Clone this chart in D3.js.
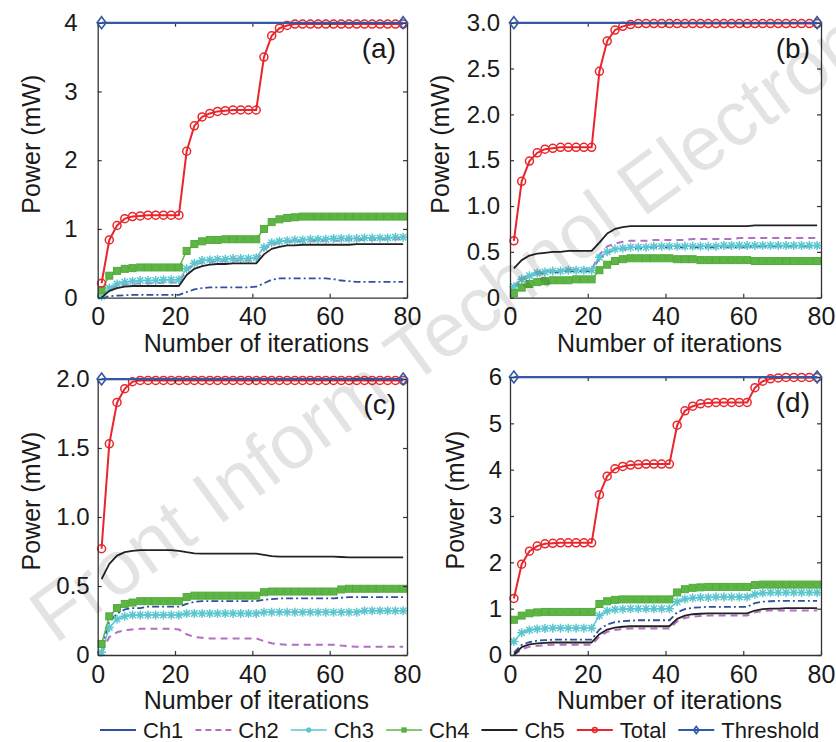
<!DOCTYPE html>
<html>
<head>
<meta charset="utf-8">
<script src="https://cdn.jsdelivr.net/npm/d3@7"></script>
<style>
  body { margin: 0; background: #fff; }
  svg { display: block; font-family: "Liberation Sans", Arial, sans-serif; }
</style>
</head>
<body>
<svg width="836" height="742"></svg>
<script>
// iterations at which the series were sampled
const iterations = [1,3,5,7,9,11,13,15,17,19,21,23,25,27,29,31,33,35,37,39,
                    41,43,45,47,49,51,53,55,57,59,61,63,65,67,69,71,73,75,77,79];
const thresholdIters = [1, 79];
const xTicks = [0, 20, 40, 60, 80];
const seriesNames = ["Ch1", "Ch2", "Ch3", "Ch4", "Ch5", "Total", "Threshold"];

// (a)
const totalA = [0.21,0.84,1.05,1.15,1.18,1.19,1.2,1.2,1.2,1.2,1.2,
                2.13,2.5,2.63,2.68,2.71,2.72,2.73,2.73,2.73,2.73,
                3.5,3.81,3.92,3.96,3.98,3.98,3.98,3.98,3.98,3.98,
                3.98,3.98,3.98,3.98,3.98,3.98,3.98,3.98,3.98];
const ch1A = [0,0.02,0.03,0.035,0.04,0.04,0.04,0.04,0.04,0.04,0.04,
              0.08,0.12,0.14,0.15,0.15,0.15,0.15,0.15,0.15,0.16,
              0.21,0.26,0.28,0.28,0.28,0.28,0.28,0.28,0.28,0.27,
              0.25,0.24,0.23,0.23,0.23,0.23,0.23,0.23,0.23];
const ch2A = [0.01,0.12,0.17,0.19,0.2,0.21,0.21,0.21,0.22,0.22,0.22,
              0.4,0.48,0.51,0.52,0.53,0.53,0.54,0.54,0.54,0.54,
              0.7,0.77,0.8,0.81,0.82,0.82,0.82,0.83,0.83,0.83,
              0.83,0.84,0.84,0.84,0.84,0.85,0.85,0.85,0.85];
const ch3A = [0.02,0.14,0.2,0.23,0.24,0.25,0.25,0.25,0.26,0.26,0.26,
              0.42,0.5,0.54,0.55,0.56,0.56,0.57,0.57,0.57,0.58,
              0.73,0.8,0.82,0.83,0.84,0.84,0.85,0.85,0.85,0.86,
              0.86,0.86,0.86,0.87,0.87,0.87,0.87,0.88,0.88];
const ch4A = [0.11,0.32,0.39,0.42,0.43,0.44,0.44,0.44,0.44,0.44,0.44,
              0.68,0.78,0.82,0.84,0.84,0.85,0.85,0.85,0.85,0.85,
              1.0,1.1,1.14,1.16,1.17,1.18,1.18,1.18,1.18,1.18,
              1.18,1.18,1.18,1.18,1.18,1.18,1.18,1.18,1.18];
const ch5A = [0,0.1,0.14,0.16,0.17,0.17,0.17,0.17,0.17,0.17,0.17,
              0.33,0.42,0.46,0.48,0.49,0.49,0.5,0.5,0.5,0.5,
              0.63,0.71,0.74,0.76,0.76,0.77,0.77,0.77,0.77,0.77,
              0.77,0.77,0.78,0.78,0.78,0.78,0.78,0.78,0.78];
const thresholdA = [4, 4];
const yTicksA = [0, 1, 2, 3, 4];
const yTickLabelsA = ["0", "1", "2", "3", "4"];

// (b)
const totalB = [0.62,1.27,1.49,1.58,1.62,1.63,1.64,1.64,1.64,1.64,1.64,
                2.47,2.8,2.92,2.96,2.98,2.99,2.99,2.99,2.99,2.99,
                2.99,2.99,2.99,2.99,2.99,2.99,2.99,2.99,2.99,2.99,
                2.99,2.99,2.99,2.99,2.99,2.99,2.99,2.99,2.99];
const ch1B = [0.11,0.19,0.23,0.26,0.27,0.28,0.28,0.29,0.29,0.29,0.29,
              0.43,0.49,0.52,0.53,0.54,0.54,0.54,0.55,0.55,0.55,
              0.55,0.55,0.55,0.55,0.55,0.55,0.55,0.55,0.55,0.55,
              0.56,0.56,0.56,0.56,0.56,0.56,0.56,0.56,0.56];
const ch2B = [0.13,0.21,0.25,0.28,0.29,0.3,0.3,0.3,0.31,0.31,0.31,
              0.47,0.56,0.59,0.61,0.62,0.62,0.62,0.63,0.63,0.63,
              0.63,0.63,0.64,0.64,0.64,0.64,0.64,0.64,0.65,0.65,
              0.65,0.65,0.65,0.65,0.65,0.65,0.65,0.65,0.65];
const ch3B = [0.12,0.2,0.24,0.27,0.28,0.29,0.29,0.3,0.3,0.3,0.3,
              0.44,0.5,0.53,0.54,0.55,0.55,0.55,0.56,0.56,0.56,
              0.56,0.56,0.56,0.56,0.56,0.56,0.57,0.57,0.57,0.57,
              0.57,0.57,0.57,0.57,0.57,0.57,0.57,0.57,0.57];
const ch4B = [0.05,0.11,0.15,0.17,0.18,0.19,0.19,0.19,0.2,0.2,0.2,
              0.3,0.36,0.4,0.42,0.43,0.43,0.43,0.43,0.43,0.43,
              0.42,0.42,0.42,0.41,0.41,0.41,0.41,0.41,0.41,0.41,
              0.4,0.4,0.4,0.4,0.4,0.4,0.4,0.4,0.4];
const ch5B = [0.32,0.41,0.46,0.48,0.49,0.5,0.5,0.51,0.51,0.51,0.51,
              0.6,0.7,0.75,0.77,0.78,0.78,0.78,0.78,0.78,0.78,
              0.78,0.78,0.78,0.78,0.78,0.78,0.78,0.78,0.78,0.78,
              0.79,0.79,0.79,0.79,0.79,0.79,0.79,0.79,0.79];
const thresholdB = [3, 3];
const yTicksB = [0, 0.5, 1, 1.5, 2, 2.5, 3];
const yTickLabelsB = ["0", "0.5", "1.0", "1.5", "2.0", "2.5", "3.0"];

// (c)
const totalC = [0.77,1.53,1.83,1.93,1.98,1.99,1.99,1.99,1.99,1.99,1.99,
                1.99,1.99,1.99,1.99,1.99,1.99,1.99,1.99,1.99,1.99,
                1.99,1.99,1.99,1.99,1.99,1.99,1.99,1.99,1.99,1.99,
                1.99,1.99,1.99,1.99,1.99,1.99,1.99,1.99,1.99];
const ch1C = [0.05,0.24,0.3,0.33,0.34,0.34,0.35,0.35,0.35,0.35,0.35,
              0.37,0.385,0.39,0.39,0.39,0.39,0.39,0.39,0.39,0.39,
              0.4,0.405,0.41,0.41,0.41,0.41,0.41,0.41,0.41,0.41,
              0.415,0.42,0.42,0.42,0.42,0.42,0.42,0.42,0.42];
const ch2C = [0.02,0.13,0.165,0.18,0.185,0.19,0.19,0.19,0.19,0.19,0.185,
              0.15,0.13,0.125,0.12,0.12,0.12,0.12,0.12,0.12,0.12,
              0.1,0.085,0.078,0.075,0.075,0.075,0.075,0.075,0.075,0.075,
              0.068,0.063,0.06,0.06,0.06,0.06,0.06,0.06,0.06];
const ch3C = [0.02,0.2,0.26,0.28,0.29,0.29,0.29,0.29,0.29,0.29,0.29,
              0.3,0.3,0.3,0.3,0.3,0.3,0.3,0.3,0.3,0.3,
              0.31,0.31,0.31,0.31,0.31,0.31,0.31,0.31,0.31,0.31,
              0.31,0.31,0.31,0.32,0.32,0.32,0.32,0.32,0.32];
const ch4C = [0.08,0.28,0.34,0.37,0.38,0.39,0.39,0.39,0.39,0.39,0.39,
              0.42,0.43,0.43,0.43,0.43,0.43,0.43,0.43,0.43,0.43,
              0.455,0.46,0.46,0.46,0.46,0.46,0.46,0.46,0.46,0.46,
              0.475,0.48,0.48,0.48,0.48,0.48,0.48,0.48,0.48];
const ch5C = [0.55,0.66,0.72,0.745,0.755,0.76,0.76,0.76,0.76,0.76,0.755,
              0.745,0.737,0.735,0.735,0.735,0.735,0.735,0.735,0.735,0.735,
              0.725,0.716,0.713,0.713,0.713,0.713,0.713,0.713,0.713,0.713,
              0.71,0.708,0.708,0.708,0.708,0.708,0.708,0.708,0.708];
const thresholdC = [2, 2];
const yTicksC = [0, 0.5, 1, 1.5, 2];
const yTickLabelsC = ["0", "0.5", "1.0", "1.5", "2.0"];

// (d)
const totalD = [1.22,1.96,2.24,2.35,2.4,2.41,2.42,2.42,2.42,2.42,2.42,
                3.46,3.86,4.02,4.07,4.1,4.11,4.12,4.12,4.12,4.12,
                4.96,5.27,5.37,5.42,5.44,5.45,5.45,5.45,5.45,5.45,
                5.77,5.91,5.96,5.98,5.99,5.99,5.99,5.99,5.99];
const ch1D = [0.05,0.22,0.28,0.31,0.32,0.33,0.33,0.33,0.33,0.33,0.33,
              0.55,0.66,0.71,0.73,0.74,0.75,0.75,0.75,0.75,0.75,
              0.92,0.99,1.02,1.03,1.04,1.04,1.04,1.04,1.04,1.04,
              1.12,1.15,1.16,1.17,1.17,1.17,1.17,1.17,1.17];
const ch2D = [0,0.12,0.18,0.2,0.21,0.22,0.22,0.22,0.22,0.22,0.22,
              0.4,0.5,0.54,0.56,0.57,0.57,0.57,0.57,0.57,0.57,
              0.73,0.8,0.83,0.84,0.85,0.85,0.85,0.85,0.85,0.85,
              0.92,0.95,0.96,0.96,0.96,0.96,0.96,0.96,0.96];
const ch3D = [0.29,0.48,0.54,0.56,0.57,0.58,0.58,0.58,0.58,0.58,0.58,
              0.85,0.95,0.98,0.99,1.0,1.0,1.0,1.0,1.0,1.0,
              1.15,1.21,1.23,1.24,1.24,1.25,1.25,1.25,1.25,1.25,
              1.31,1.34,1.35,1.35,1.35,1.35,1.35,1.35,1.35];
const ch4D = [0.76,0.85,0.9,0.92,0.93,0.93,0.93,0.93,0.93,0.93,0.93,
              1.1,1.16,1.19,1.2,1.2,1.2,1.2,1.2,1.2,1.2,
              1.35,1.42,1.45,1.46,1.47,1.47,1.47,1.47,1.47,1.47,
              1.51,1.52,1.52,1.52,1.52,1.52,1.52,1.52,1.52];
const ch5D = [0,0.17,0.23,0.25,0.26,0.27,0.27,0.27,0.27,0.27,0.27,
              0.45,0.55,0.59,0.61,0.62,0.62,0.62,0.62,0.62,0.62,
              0.78,0.85,0.88,0.89,0.9,0.9,0.9,0.9,0.9,0.9,
              0.96,0.99,1.0,1.0,1.01,1.01,1.01,1.01,1.01];
const thresholdD = [6, 6];
const yTicksD = [0, 1, 2, 3, 4, 5, 6];
const yTickLabelsD = ["0", "1", "2", "3", "4", "5", "6"];

(function () {

  const svg = d3.select("svg");

  const styles = {
    Ch1:       { color: "#2f50a0", width: 1.8, dash: "7,3,2,3" },
    Ch2:       { color: "#b36fc2", width: 2,   dash: "7,5" },
    Ch3:       { color: "#5cc6d0", width: 1.5, marker: "star" },
    Ch4:       { color: "#5db545", width: 1.5, marker: "square" },
    Ch5:       { color: "#222222", width: 1.8 },
    Total:     { color: "#e8262c", width: 2,   marker: "circle" },
    Threshold: { color: "#2f5aab", width: 2,   marker: "diamond" }
  };

  const panels = [
    { label: "(a)", ch: [ch1A, ch2A, ch3A, ch4A, ch5A], total: totalA, thr: thresholdA,
      yMax: 4, yTicks: yTicksA, yLabels: yTickLabelsA,
      x0: 97.7, x1: 407, y0: 22.7, y1: 297.7, pad: 20, ylabX: 31 },
    { label: "(b)", ch: [ch1B, ch2B, ch3B, ch4B, ch5B], total: totalB, thr: thresholdB,
      yMax: 3, yTicks: yTicksB, yLabels: yTickLabelsB,
      x0: 510, x1: 821, y0: 22.7, y1: 297.7, pad: 10, ylabX: 440 },
    { label: "(c)", ch: [ch1C, ch2C, ch3C, ch4C, ch5C], total: totalC, thr: thresholdC,
      yMax: 2, yTicks: yTicksC, yLabels: yTickLabelsC,
      x0: 97.7, x1: 407, y0: 379, y1: 655, pad: 8, ylabX: 31 },
    { label: "(d)", ch: [ch1D, ch2D, ch3D, ch4D, ch5D], total: totalD, thr: thresholdD,
      yMax: 6, yTicks: yTicksD, yLabels: yTickLabelsD,
      x0: 510, x1: 821, y0: 377, y1: 655, pad: 8, ylabX: 455 }
  ];

  function drawMarker(sel, kind, color, s) {
    s = s || 1;
    if (kind === "circle") {
      sel.append("circle").attr("r", 4 * s)
        .attr("fill", "none").attr("stroke", color).attr("stroke-width", 1.5);
    } else if (kind === "square") {
      sel.append("rect").attr("x", -3.5 * s).attr("y", -3.5 * s)
        .attr("width", 7 * s).attr("height", 7 * s)
        .attr("fill", color).attr("stroke", "#52aa3a").attr("stroke-width", 1);
    } else if (kind === "star") {
      const r = 4.5 * s, q = 3.2 * s;
      sel.append("path")
        .attr("d", `M${-r},0H${r}M0,${-r}V${r}M${-q},${-q}L${q},${q}M${-q},${q}L${q},${-q}`)
        .attr("stroke", color).attr("stroke-width", 1.5).attr("fill", "none");
    } else if (kind === "diamond") {
      sel.append("path")
        .attr("d", `M0,${-6 * s}L${4.5 * s},0L0,${6 * s}L${-4.5 * s},0Z`)
        .attr("fill", "none").attr("stroke", color).attr("stroke-width", 1.6);
    }
  }

  function drawSeries(g, x, y, xs, ys, name) {
    const st = styles[name];
    const pts = xs.map((v, i) => [v, ys[i]]);
    const line = d3.line().x(d => x(d[0])).y(d => y(d[1]));
    g.append("path")
      .datum(pts)
      .attr("d", line)
      .attr("fill", "none")
      .attr("stroke", st.color)
      .attr("stroke-width", st.width)
      .attr("stroke-dasharray", st.dash || null)
      .attr("stroke-linejoin", "round");
    if (st.marker) {
      g.append("g").selectAll("g")
        .data(pts)
        .enter().append("g")
        .attr("transform", d => `translate(${x(d[0])},${y(d[1])})`)
        .each(function () { drawMarker(d3.select(this), st.marker, st.color); });
    }
  }

  panels.forEach(p => {
    const g = svg.append("g");
    const x = d3.scaleLinear().domain([0, 80]).range([p.x0, p.x1]);
    const y = d3.scaleLinear().domain([0, p.yMax]).range([p.y1, p.y0]);

    // series
    p.ch.forEach((vals, i) => drawSeries(g, x, y, iterations, vals, seriesNames[i]));
    drawSeries(g, x, y, iterations, p.total, "Total");

    // box with inward ticks
    const axes = [
      g.append("g").attr("transform", `translate(0,${p.y1})`)
        .call(d3.axisBottom(x).tickValues(xTicks).tickSizeInner(-4).tickSizeOuter(0).tickPadding(10)),
      g.append("g").attr("transform", `translate(0,${p.y0})`)
        .call(d3.axisTop(x).tickValues(xTicks).tickSizeInner(-4).tickSizeOuter(0).tickFormat("")),
      g.append("g").attr("transform", `translate(${p.x0},0)`)
        .call(d3.axisLeft(y).tickValues(p.yTicks).tickSizeInner(-4).tickSizeOuter(0)
          .tickPadding(p.pad).tickFormat((d, i) => p.yLabels[i])),
      g.append("g").attr("transform", `translate(${p.x1},0)`)
        .call(d3.axisRight(y).tickValues(p.yTicks).tickSizeInner(-4).tickSizeOuter(0).tickFormat(""))
    ];
    axes.forEach(a => {
      a.selectAll(".domain").attr("stroke", "#333").attr("stroke-width", 1.3);
      a.selectAll(".tick line").attr("stroke", "#333").attr("stroke-width", 1.2);
      a.selectAll(".tick text").attr("fill", "#1a1a1a")
        .attr("font-family", "'Liberation Sans', Arial, sans-serif");
    });
    axes[0].selectAll(".tick text").attr("font-size", 25);
    axes[2].selectAll(".tick text").attr("font-size", 24);

    // threshold sits on the top edge, drawn over the box
    drawSeries(g, x, y, thresholdIters, p.thr, "Threshold");

    g.append("text")
      .attr("x", (p.x0 + p.x1) / 2 + 4)
      .attr("y", p.y1 + 54)
      .attr("text-anchor", "middle")
      .attr("font-size", 25)
      .attr("fill", "#1a1a1a")
      .text("Number of iterations");

    g.append("text")
      .attr("transform", `translate(${p.ylabX},${(p.y0 + p.y1) / 2 - 16}) rotate(-90)`)
      .attr("text-anchor", "middle")
      .attr("dominant-baseline", "central")
      .attr("font-size", 25)
      .attr("fill", "#1a1a1a")
      .text("Power (mW)");

    g.append("text")
      .attr("x", p.x1 - 11)
      .attr("y", p.y0 + 35)
      .attr("text-anchor", "end")
      .attr("font-size", 28)
      .attr("fill", "#1a1a1a")
      .text(p.label);
  });

  // legend
  const legend = svg.append("g").attr("transform", "translate(100,730)");
  let cx = 0;
  seriesNames.forEach(name => {
    const st = styles[name];
    const item = legend.append("g").attr("transform", `translate(${cx},0)`);
    item.append("line")
      .attr("x1", 0).attr("x2", 36)
      .attr("stroke", st.color).attr("stroke-width", st.width)
      .attr("stroke-dasharray", name === "Ch1" ? null : (st.dash ? "6,4" : null));
    if (st.marker) {
      drawMarker(item.append("g").attr("transform", "translate(18,0)"), st.marker, st.color, 0.6);
    }
    const t = item.append("text")
      .attr("x", 43)
      .attr("dy", "0.35em")
      .attr("font-size", 22)
      .attr("fill", "#1a1a1a")
      .text(name);
    cx += 43 + t.node().getComputedTextLength() + 12;
  });

  // journal watermark
  svg.append("text")
    .attr("transform", "translate(55,645) rotate(-36)")
    .attr("font-size", 77)
    .attr("fill", "#000")
    .attr("fill-opacity", 0.11)
    .text("Front Inform Technol Electron");

}());
</script>
</body>
</html>
